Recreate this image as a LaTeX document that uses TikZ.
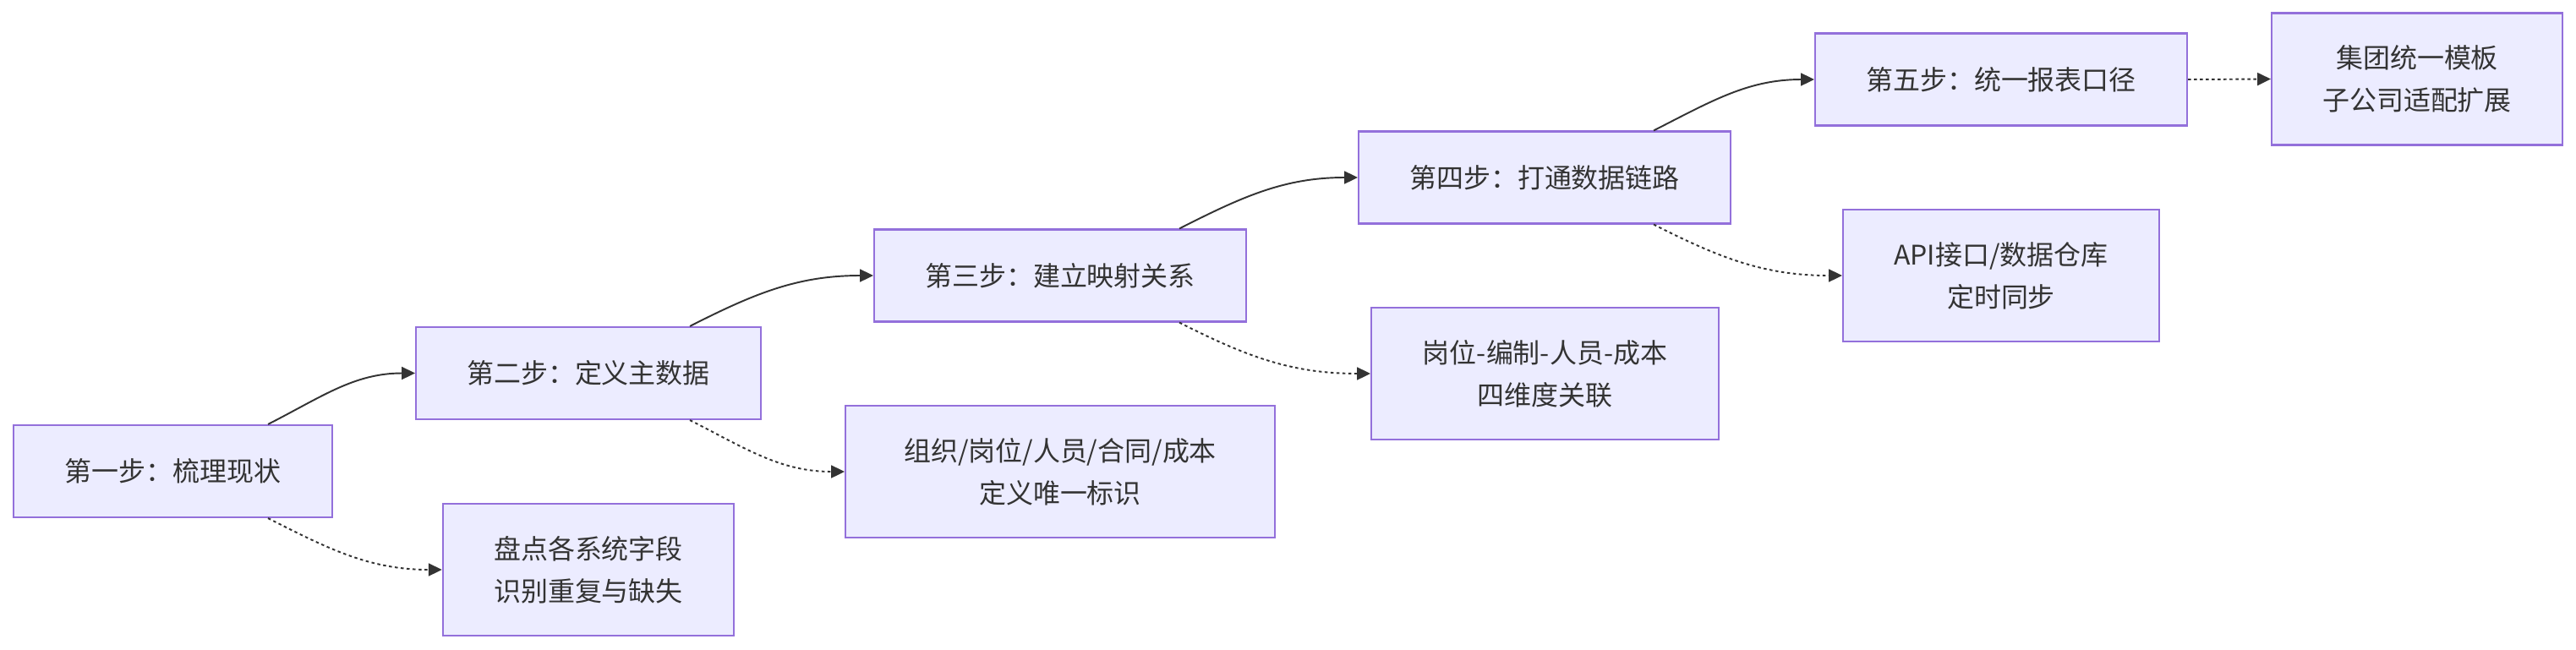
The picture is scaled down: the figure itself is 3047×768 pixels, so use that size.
\documentclass[tikz,border=0pt]{standalone}
\usepackage{fontspec}
\newfontfamily\cjk{Noto Sans CJK SC}
\usetikzlibrary{arrows.meta,calc}
\definecolor{boxfill}{HTML}{ECECFF}
\definecolor{boxline}{HTML}{9370DB}
\definecolor{ink}{HTML}{333333}

\begin{document}
\begin{tikzpicture}[x=0.02cm, y=-0.02cm,
    every node/.style={font=\cjk\fontsize{18.2pt}{28.4pt}\selectfont, text=ink},
    stepbox/.style={draw=boxline, fill=boxfill, line width=1.2pt, align=center, inner sep=0pt, minimum height=2.18cm},
    notebox/.style={stepbox, minimum height=3.12cm},
    flow/.style={draw=ink, line width=1.1pt, -{Triangle[length=9pt,width=8.5pt]}},
    dotflow/.style={flow, dash pattern=on 2pt off 2pt}]
    \useasboundingbox (0,0) rectangle (3047,768);

    % passi principali
    \node[stepbox, minimum width=7.54cm] (s1) at (204.5,557.5) {第一步：梳理现状};
    \node[stepbox, minimum width=8.16cm] (s2) at (696,441.5) {第二步：定义主数据};
    \node[stepbox, minimum width=8.8cm] (s3) at (1254,326) {第三步：建立映射关系};
    \node[stepbox, minimum width=8.8cm] (s4) at (1827,210) {第四步：打通数据链路};
    \node[stepbox, minimum width=8.8cm] (s5) at (2367,94) {第五步：统一报表口径};

    % note
    \node[notebox, minimum width=6.89cm] (n1) at (696,674) {盘点各系统字段\\识别重复与缺失};
    \node[notebox, minimum width=10.16cm] (n2) at (1254,558) {组织/岗位/人员/合同/成本\\定义唯一标识};
    \node[notebox, minimum width=8.22cm] (n3) at (1827.5,442) {岗位-编制-人员-成本\\四维度关联};
    \node[notebox, minimum width=7.48cm] (n4) at (2367,326) {API接口/数据仓库\\定时同步};
    \node[notebox, minimum width=6.88cm] (n5) at (2859,93.5) {集团统一模板\\子公司适配扩展};

    % frecce tra i passi
    \draw[flow] ($(s1.north)+(112.5,0)$) to[out=27,in=180] (s2.west);
    \draw[flow] ($(s2.north)+(120,0)$) to[out=27,in=180] (s3.west);
    \draw[flow] ($(s3.north)+(141,0)$) to[out=27,in=180] (s4.west);
    \draw[flow] ($(s4.north)+(129,0)$) to[out=27,in=180] (s5.west);

    % frecce tratteggiate verso le note
    \draw[dotflow] ($(s1.south)+(112.5,0)$) to[out=-27,in=180] (n1.west);
    \draw[dotflow] ($(s2.south)+(120,0)$) to[out=-27,in=180] (n2.west);
    \draw[dotflow] ($(s3.south)+(141,0)$) to[out=-27,in=180] (n3.west);
    \draw[dotflow] ($(s4.south)+(129,0)$) to[out=-27,in=180] (n4.west);
    \draw[dotflow] (s5.east) -- (n5.west);
\end{tikzpicture}
\end{document}
